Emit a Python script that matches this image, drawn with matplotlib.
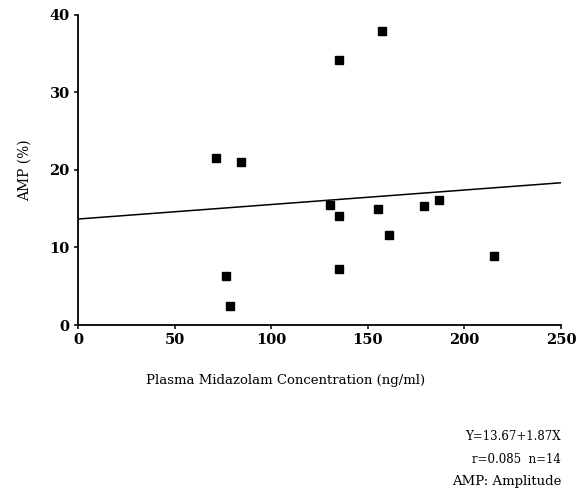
import numpy as np
import matplotlib
matplotlib.use('Agg')
import matplotlib.pyplot as plt

# midazolam concentration (ng/ml) vs amplitude (%)
conc = [71.4, 84.5, 76.6, 78.5, 157.5, 135.3, 130.4, 135.3, 155.1, 161.1, 179.1, 187.0, 215.2, 134.9]
amp = [21.6, 21.0, 6.3, 2.5, 37.9, 34.2, 15.5, 14.1, 15.0, 11.6, 15.3, 16.1, 8.9, 7.2]

# regression Y = a + bX, X in 100 ng/ml
intercept = 13.67
slope = 1.87

xticks = [0, 50, 100, 150, 200, 250]
yticks = [0, 10, 20, 30, 40]

plt.rcParams['font.family'] = 'DejaVu Serif'

fig = plt.figure(figsize=(5.8, 4.94), dpi=100)
ax = fig.add_axes([0.1345, 0.342, 0.8325, 0.628])

ax.plot(conc, amp, 's', color='black', markersize=6)
xl = np.array([0, 250])
ax.plot(xl, intercept + slope * xl / 100, color='black', linewidth=1.1)

ax.set_xlim(0, 250)
ax.set_ylim(0, 40)
ax.set_xticks(xticks)
ax.set_yticks(yticks)
ax.spines['top'].set_visible(False)
ax.spines['right'].set_visible(False)
ax.spines['left'].set_linewidth(1.3)
ax.spines['bottom'].set_linewidth(1.3)
ax.tick_params(direction='out', length=3, width=1.1, labelsize=10.5, pad=3)
for lab in ax.get_xticklabels() + ax.get_yticklabels():
    lab.set_fontweight('semibold')

fig.text(25 / 580, 1 - 170 / 494, 'AMP (%)', rotation=90, ha='center', va='center', fontsize=10)
fig.text(286 / 580, 1 - 380 / 494, 'Plasma Midazolam Concentration (ng/ml)', ha='center', va='center', fontsize=9.5)
fig.text(561 / 580, 1 - 436 / 494, 'Y=13.67+1.87X', ha='right', va='center', fontsize=8.5)
fig.text(561 / 580, 1 - 459 / 494, 'r=0.085  n=14', ha='right', va='center', fontsize=8.5)
fig.text(561 / 580, 1 - 481 / 494, 'AMP: Amplitude', ha='right', va='center', fontsize=9.5)

plt.savefig('out.png', dpi=100)
